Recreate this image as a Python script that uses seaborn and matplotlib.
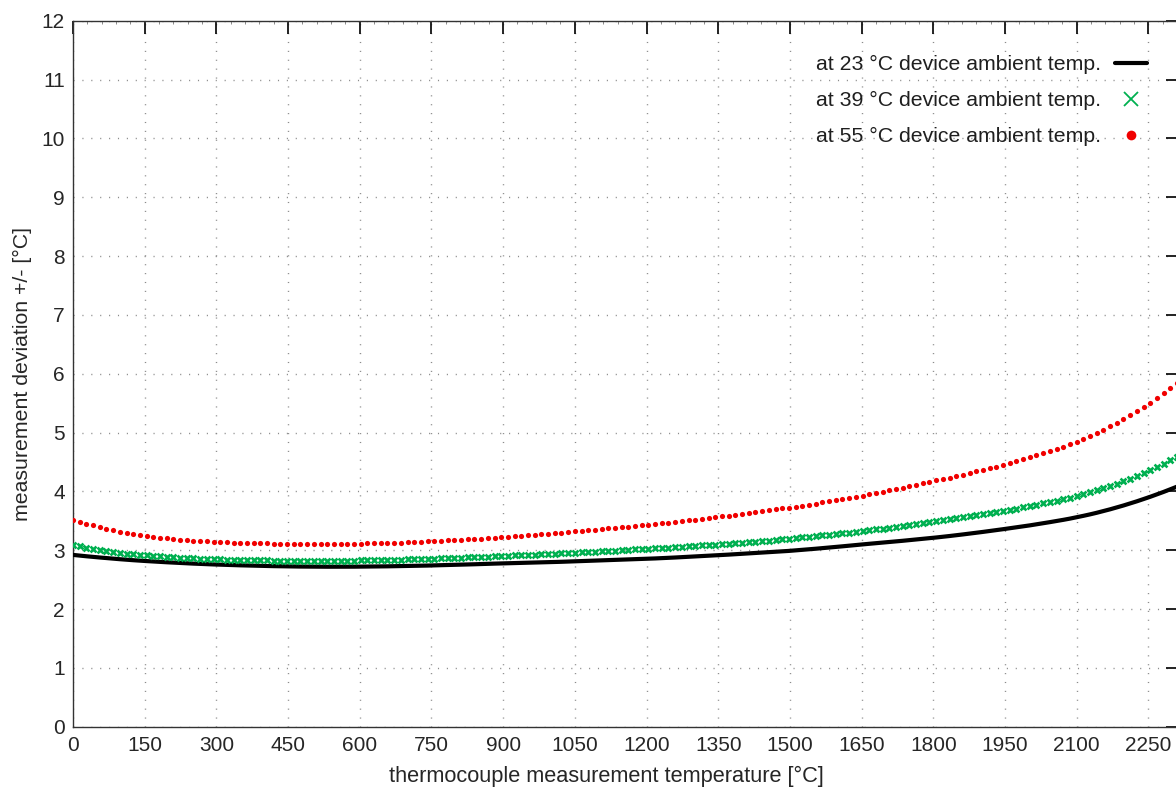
import numpy as np
import pandas as pd
import matplotlib
matplotlib.use("Agg")
import matplotlib.pyplot as plt
from matplotlib.lines import Line2D
from matplotlib.ticker import MultipleLocator
import seaborn as sns

# Thermocouple measurement temperature grid [°C]
temps = list(range(0, 2311, 14))

# Measurement deviation +/- [°C] at 23 °C device ambient temperature
dev_23 = [
    2.920, 2.908, 2.897, 2.886, 2.876, 2.866, 2.856, 2.847, 2.838, 2.830,
    2.822, 2.815, 2.808, 2.801, 2.795, 2.789, 2.783, 2.777, 2.772, 2.767,
    2.762, 2.758, 2.754, 2.750, 2.746, 2.743, 2.740, 2.737, 2.734, 2.731,
    2.729, 2.727, 2.725, 2.723, 2.722, 2.721, 2.720, 2.719, 2.719, 2.719,
    2.719, 2.719, 2.720, 2.721, 2.722, 2.723, 2.724, 2.726, 2.728, 2.730,
    2.732, 2.734, 2.736, 2.739, 2.742, 2.745, 2.748, 2.751, 2.754, 2.757,
    2.761, 2.765, 2.769, 2.772, 2.775, 2.778, 2.781, 2.784, 2.787, 2.790,
    2.793, 2.796, 2.799, 2.803, 2.807, 2.811, 2.815, 2.819, 2.823, 2.827,
    2.831, 2.835, 2.839, 2.843, 2.847, 2.851, 2.855, 2.860, 2.865, 2.870,
    2.876, 2.882, 2.888, 2.894, 2.900, 2.906, 2.912, 2.918, 2.925, 2.932,
    2.939, 2.946, 2.953, 2.960, 2.967, 2.974, 2.981, 2.988, 2.997, 3.006,
    3.015, 3.025, 3.035, 3.045, 3.055, 3.066, 3.077, 3.088, 3.099, 3.109,
    3.119, 3.129, 3.139, 3.149, 3.160, 3.171, 3.182, 3.193, 3.204, 3.216,
    3.228, 3.241, 3.254, 3.268, 3.282, 3.296, 3.311, 3.326, 3.342, 3.357,
    3.373, 3.389, 3.405, 3.422, 3.440, 3.458, 3.477, 3.496, 3.516, 3.537,
    3.560, 3.584, 3.609, 3.636, 3.665, 3.695, 3.727, 3.760, 3.795, 3.831,
    3.869, 3.908, 3.949, 3.991, 4.035, 4.080,
]

# Measurement deviation +/- [°C] at 39 °C device ambient temperature
dev_39 = [
    3.090, 3.065, 3.040, 3.020, 3.000, 2.983, 2.968, 2.955, 2.943, 2.932,
    2.922, 2.912, 2.903, 2.895, 2.888, 2.881, 2.875, 2.869, 2.863, 2.858,
    2.853, 2.849, 2.845, 2.841, 2.838, 2.835, 2.832, 2.830, 2.828, 2.826,
    2.824, 2.823, 2.822, 2.821, 2.820, 2.820, 2.820, 2.820, 2.820, 2.821,
    2.822, 2.823, 2.824, 2.826, 2.828, 2.830, 2.832, 2.834, 2.837, 2.840,
    2.843, 2.846, 2.850, 2.854, 2.858, 2.862, 2.866, 2.870, 2.873, 2.877,
    2.881, 2.886, 2.891, 2.895, 2.900, 2.905, 2.910, 2.915, 2.920, 2.925,
    2.930, 2.935, 2.940, 2.946, 2.952, 2.958, 2.964, 2.970, 2.976, 2.982,
    2.988, 2.994, 3.000, 3.006, 3.012, 3.018, 3.024, 3.031, 3.038, 3.045,
    3.052, 3.059, 3.066, 3.073, 3.080, 3.088, 3.096, 3.104, 3.112, 3.120,
    3.128, 3.137, 3.146, 3.155, 3.164, 3.173, 3.182, 3.195, 3.206, 3.217,
    3.228, 3.239, 3.251, 3.263, 3.275, 3.287, 3.300, 3.313, 3.326, 3.340,
    3.354, 3.368, 3.383, 3.398, 3.413, 3.428, 3.444, 3.460, 3.476, 3.492,
    3.508, 3.524, 3.541, 3.558, 3.575, 3.593, 3.611, 3.630, 3.649, 3.668,
    3.688, 3.708, 3.729, 3.750, 3.772, 3.795, 3.818, 3.842, 3.867, 3.894,
    3.922, 3.952, 3.984, 4.018, 4.054, 4.092, 4.131, 4.172, 4.215, 4.260,
    4.307, 4.357, 4.410, 4.466, 4.526, 4.590,
]

# Measurement deviation +/- [°C] at 55 °C device ambient temperature
dev_55 = [
    3.520, 3.480, 3.450, 3.420, 3.390, 3.360, 3.335, 3.310, 3.290, 3.270,
    3.255, 3.240, 3.225, 3.210, 3.200, 3.190, 3.180, 3.170, 3.163, 3.155,
    3.150, 3.145, 3.140, 3.135, 3.130, 3.126, 3.122, 3.120, 3.117, 3.115,
    3.113, 3.111, 3.110, 3.109, 3.108, 3.107, 3.107, 3.107, 3.107, 3.108,
    3.109, 3.110, 3.111, 3.113, 3.115, 3.117, 3.120, 3.123, 3.126, 3.130,
    3.134, 3.138, 3.143, 3.148, 3.153, 3.159, 3.165, 3.171, 3.177, 3.184,
    3.191, 3.198, 3.205, 3.213, 3.221, 3.229, 3.237, 3.245, 3.254, 3.263,
    3.272, 3.281, 3.290, 3.300, 3.310, 3.320, 3.330, 3.340, 3.350, 3.360,
    3.370, 3.380, 3.390, 3.400, 3.410, 3.420, 3.430, 3.440, 3.455, 3.467,
    3.480, 3.492, 3.505, 3.518, 3.531, 3.545, 3.559, 3.573, 3.587, 3.601,
    3.616, 3.631, 3.646, 3.661, 3.677, 3.693, 3.709, 3.725, 3.742, 3.759,
    3.776, 3.793, 3.811, 3.829, 3.847, 3.866, 3.885, 3.905, 3.925, 3.947,
    3.969, 3.992, 4.015, 4.038, 4.062, 4.086, 4.110, 4.135, 4.160, 4.186,
    4.210, 4.235, 4.260, 4.286, 4.312, 4.339, 4.366, 4.394, 4.422, 4.451,
    4.481, 4.512, 4.544, 4.577, 4.611, 4.646, 4.682, 4.720, 4.760, 4.801,
    4.845, 4.891, 4.941, 4.993, 5.048, 5.106, 5.166, 5.229, 5.295, 5.364,
    5.436, 5.510, 5.587, 5.667, 5.750, 5.835,
]

labels = [
    "at 23 °C device ambient temp.",
    "at 39 °C device ambient temp.",
    "at 55 °C device ambient temp.",
]

x_ticks = list(range(0, 2251, 150))
y_ticks = list(range(0, 13))

df = pd.DataFrame({"temp": temps, "d23": dev_23, "d39": dev_39, "d55": dev_55})

sns.set_style("white")
plt.rcParams["font.family"] = ["Liberation Sans", "DejaVu Sans"]
plt.rcParams["text.color"] = "#1f1f1f"

fig = plt.figure(figsize=(11.76, 7.9), dpi=100)
W, H = 1176.0, 790.0
left, right, top, bottom = 73.0, 1179.4, 20.7, 726.7
ax = fig.add_axes([left / W, 1 - bottom / H, (right - left) / W, (bottom - top) / H])

green = "#00b050"
red = "#f00000"
fs = 15.3

sns.lineplot(data=df, x="temp", y="d23", ax=ax, color="black", linewidth=3.0,
             legend=False, zorder=3)
sns.scatterplot(data=df, x="temp", y="d39", ax=ax, marker="x", color=green,
                s=18, linewidth=1.9, legend=False, zorder=4)
sns.scatterplot(data=df, x="temp", y="d55", ax=ax, marker="o", color=red,
                s=14, linewidth=0, legend=False, zorder=5)

ax.set_xlim(0, 2315)
ax.set_ylim(0, 12)
ax.set_xticks(x_ticks)
ax.set_yticks(y_ticks)
ax.xaxis.set_minor_locator(MultipleLocator(30))
ax.yaxis.set_minor_locator(MultipleLocator(0.2))

ax.grid(True, which="major", color="#8c8c8c", linewidth=1.0,
        linestyle=(0, (0.8, 5.6)))
ax.set_axisbelow(True)

for s in ax.spines.values():
    s.set_color("#333333")
    s.set_linewidth(1.0)
    s.set_visible(True)

ax.tick_params(which="major", direction="in", length=9.5, width=1.3,
               color="#111111", top=True, right=True, labelsize=15,
               labelcolor="#262626")
ax.tick_params(axis="x", which="major", pad=7)
ax.tick_params(axis="y", which="major", pad=6)
ax.tick_params(which="minor", direction="in", length=2.0, width=0.6,
               color="#777777", top=True, right=True)

ax.set_xlabel("thermocouple measurement temperature [°C]", fontsize=15.7,
              color="#262626")
ax.set_ylabel("measurement deviation +/- [°C]", fontsize=fs, color="#262626")
ax.xaxis.set_label_coords((606 - left) / (right - left), -(776 - bottom) / (bottom - top),
                          transform=ax.transAxes)
ax.xaxis.label.set_va("center")
ax.yaxis.set_label_coords(-(left - 22) / (right - left), 0.5, transform=ax.transAxes)
ax.yaxis.label.set_va("center")

handles = [
    Line2D([], [], color="black", linewidth=3.0),
    Line2D([], [], color=green, marker="x", markersize=9.5, markeredgewidth=1.3,
           linestyle=""),
    Line2D([], [], color=red, marker="o", markersize=7, markeredgewidth=0,
           linestyle=""),
]
leg = ax.legend(handles, labels, loc="upper right", markerfirst=False,
                frameon=False, fontsize=fs, handlelength=1.5,
                handletextpad=0.66, labelspacing=0.8, borderpad=0,
                borderaxespad=0,
                bbox_to_anchor=((1147 - left) / (right - left), (bottom - 55) / (bottom - top)))
for t in leg.get_texts():
    t.set_color("#1f1f1f")

fig.savefig("out.png", dpi=100)
